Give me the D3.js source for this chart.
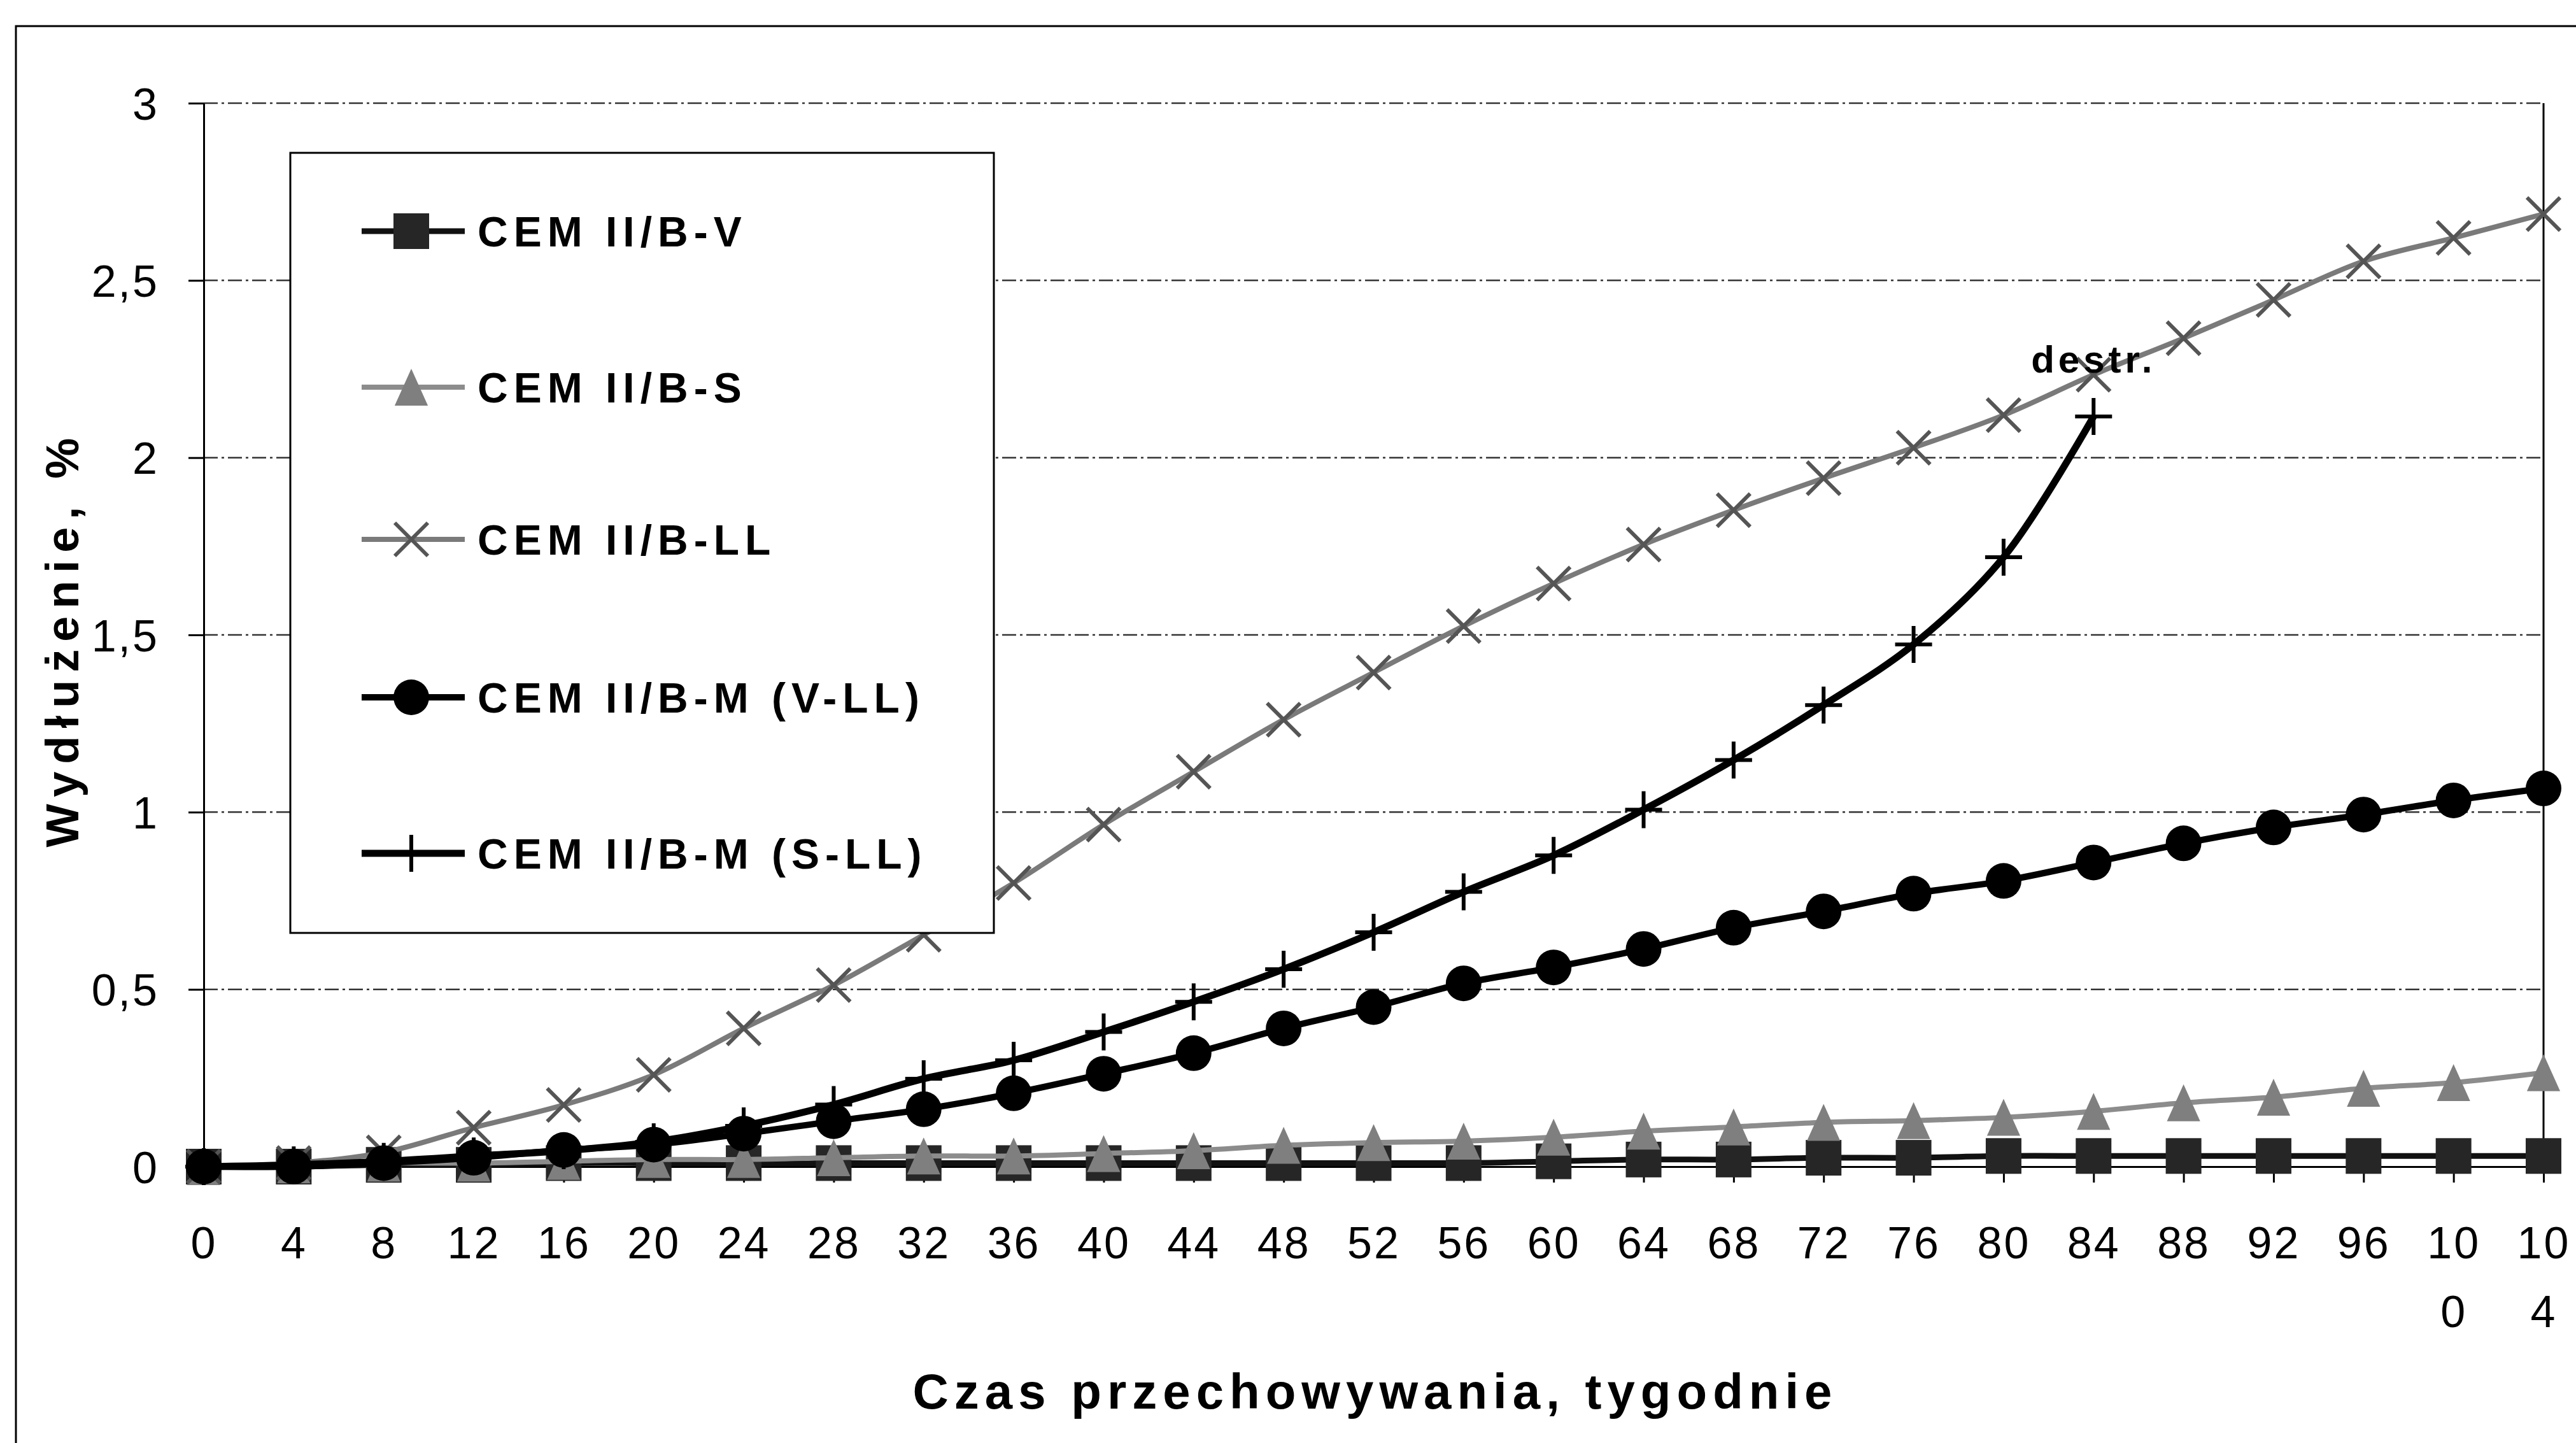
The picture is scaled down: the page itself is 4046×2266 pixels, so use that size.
<!DOCTYPE html>
<html>
<head>
<meta charset="utf-8">
<script src="https://cdn.jsdelivr.net/npm/d3@7"></script>
<style>
    body { margin: 0; background: #fff; }
    svg { display: block; }
    text { font-family: "Liberation Sans", Arial, sans-serif; fill: #000; }
</style>
</head>
<body>
<div id="chart"></div>
<script>
// storage time in weeks (x categories)
const weeks = [0, 4, 8, 12, 16, 20, 24, 28, 32, 36, 40, 44, 48, 52,
    56, 60, 64, 68, 72, 76, 80, 84, 88, 92, 96, 100, 104]
const xTickLabels = ["0", "4", "8", "12", "16", "20", "24", "28", "32", "36", "40", "44", "48", "52",
    "56", "60", "64", "68", "72", "76", "80", "84", "88", "92", "96", "100", "104"]

const yTicks = [0, 0.5, 1, 1.5, 2, 2.5, 3]
const yTickLabels = ["0", "0,5", "1", "1,5", "2", "2,5", "3"]

const seriesNames = ["CEM II/B-V", "CEM II/B-S", "CEM II/B-LL", "CEM II/B-M (V-LL)", "CEM II/B-M (S-LL)"]

// elongation, %
const cemV = [0, 0, 0.005, 0.005, 0.01, 0.01, 0.01, 0.01, 0.01, 0.01, 0.01, 0.01, 0.01, 0.01,
    0.01, 0.015, 0.02, 0.02, 0.025, 0.025, 0.03, 0.03, 0.03, 0.03, 0.03, 0.03, 0.03]
const cemS = [0, 0.005, 0.01, 0.01, 0.015, 0.02, 0.02, 0.025, 0.03, 0.03, 0.037, 0.045, 0.06, 0.068,
    0.072, 0.083, 0.1, 0.112, 0.125, 0.13, 0.139, 0.156, 0.18, 0.196, 0.221, 0.237, 0.265]
const cemLL = [0, 0.01, 0.04, 0.11, 0.174, 0.259, 0.39, 0.512, 0.654, 0.8, 0.965, 1.114, 1.261, 1.394,
    1.525, 1.645, 1.755, 1.852, 1.942, 2.028, 2.12, 2.234, 2.337, 2.445, 2.554, 2.62, 2.687]
const cemMVLL = [0, 0, 0.01, 0.025, 0.047, 0.062, 0.093, 0.128, 0.162, 0.207, 0.262, 0.32, 0.39, 0.45,
    0.517, 0.562, 0.614, 0.674, 0.72, 0.77, 0.806, 0.858, 0.912, 0.957, 0.993, 1.033, 1.067]
// specimens destroyed after week 84
const cemMSLL = [0, 0.005, 0.015, 0.03, 0.045, 0.07, 0.115, 0.175, 0.248, 0.3, 0.38, 0.465, 0.557, 0.661,
    0.775, 0.878, 1.007, 1.147, 1.302, 1.473, 1.719, 2.116]

const destrLabel = "destr."
const xTitle = "Czas przechowywania, tygodnie"
const yTitle = "Wydłużenie, %"

const width = 4046,
    height = 2266

const plot = {
    left: 320,
    right: 3995,
    top: 162,
    bottom: 1832
}

const svg = d3.select("#chart").append("svg")
    .attr("width", width)
    .attr("height", height)

svg.append("rect")
    .attr("width", width)
    .attr("height", height)
    .attr("fill", "#fff")

// outer chart frame (runs off the right and bottom of the picture)
svg.append("rect")
    .attr("x", 25)
    .attr("y", 41)
    .attr("width", width + 100)
    .attr("height", height + 100)
    .attr("fill", "none")
    .attr("stroke", "#000")
    .attr("stroke-width", 3)

const x = d3.scalePoint().domain(weeks).range([plot.left, plot.right])
const y = d3.scaleLinear().domain([0, 3]).range([plot.bottom, plot.top])

// gridlines
svg.append("g").selectAll("line")
    .data(yTicks.filter(d => d > 0))
    .enter()
    .append("line")
    .attr("x1", plot.left)
    .attr("x2", plot.right)
    .attr("y1", d => y(d))
    .attr("y2", d => y(d))
    .attr("stroke", "#333")
    .attr("stroke-width", 2.5)
    .attr("stroke-dasharray", "22,6,4,6")

// right border of the plot area
svg.append("line")
    .attr("x1", plot.right)
    .attr("x2", plot.right)
    .attr("y1", plot.top)
    .attr("y2", plot.bottom)
    .attr("stroke", "#000")
    .attr("stroke-width", 3)

// y axis
const yAxis = svg.append("g")
    .attr("transform", "translate(" + plot.left + ",0)")
    .call(d3.axisLeft(y)
        .tickValues(yTicks)
        .tickFormat((d, i) => yTickLabels[i])
        .tickSize(24)
        .tickSizeOuter(0)
        .tickPadding(46))
yAxis.selectAll("path, line").attr("stroke", "#000").attr("stroke-width", 3)
yAxis.selectAll("text")
    .attr("font-size", 70)
    .attr("font-family", "Liberation Sans, Arial, sans-serif")
    .attr("letter-spacing", 3)
    .attr("dy", "0.36em")

// x axis
const xAxis = svg.append("g")
    .attr("transform", "translate(0," + plot.bottom + ")")
    .call(d3.axisBottom(x)
        .tickSize(25)
        .tickSizeOuter(0)
        .tickPadding(69)
        .tickFormat((d, i) => xTickLabels[i]))
xAxis.selectAll("path, line").attr("stroke", "#000").attr("stroke-width", 3)
xAxis.selectAll("text")
    .attr("font-size", 70)
    .attr("font-family", "Liberation Sans, Arial, sans-serif")
    .attr("letter-spacing", 3)
    .each(function (d, i) {
        // Excel wraps the three-digit labels onto two lines
        const label = xTickLabels[i]
        const t = d3.select(this)
        if (label.length > 2) {
            t.text(null).attr("dy", null)
            t.append("tspan").attr("x", 0).attr("dy", "0.71em").text(label.slice(0, 2))
            t.append("tspan").attr("x", 0).attr("dy", "1.54em").text(label.slice(2))
        }
    })

// marker shapes
const markers = {
    square: (g, s) => g.append("rect")
        .attr("x", -s / 2).attr("y", -s / 2)
        .attr("width", s).attr("height", s)
        .attr("fill", "#262626"),
    triangle: (g, s) => g.append("path")
        .attr("d", `M0,${-s / 2}L${s * 0.45},${s / 2}L${-s * 0.45},${s / 2}Z`)
        .attr("fill", "#7f7f7f"),
    cross: (g, s) => g.append("path")
        .attr("d", `M${-s / 2},${-s / 2}L${s / 2},${s / 2}M${-s / 2},${s / 2}L${s / 2},${-s / 2}`)
        .attr("stroke", "#555")
        .attr("stroke-width", 6)
        .attr("fill", "none"),
    circle: (g, s) => g.append("circle")
        .attr("r", s / 2)
        .attr("fill", "#000"),
    plus: (g, s) => g.append("path")
        .attr("d", `M${-s / 2},0L${s / 2},0M0,${-s / 2}L0,${s / 2}`)
        .attr("stroke", "#000")
        .attr("stroke-width", 6)
        .attr("fill", "none")
}

const series = [
    { name: seriesNames[0], values: cemV, color: "#111", lineWidth: 9, marker: "square", size: 56 },
    { name: seriesNames[1], values: cemS, color: "#8c8c8c", lineWidth: 8, marker: "triangle", size: 58 },
    { name: seriesNames[2], values: cemLL, color: "#7a7a7a", lineWidth: 8, marker: "cross", size: 52 },
    { name: seriesNames[3], values: cemMVLL, color: "#000", lineWidth: 10, marker: "circle", size: 56 },
    { name: seriesNames[4], values: cemMSLL, color: "#000", lineWidth: 11, marker: "plus", size: 58 }
]

const line = d3.line()
    .x(d => x(d.week))
    .y(d => y(d.value))
    .curve(d3.curveCatmullRom.alpha(0.5))

series.forEach((s) => {
    const points = s.values.map((v, i) => ({ week: weeks[i], value: v }))
    const g = svg.append("g")
    g.append("path")
        .datum(points)
        .attr("d", line)
        .attr("fill", "none")
        .attr("stroke", s.color)
        .attr("stroke-width", s.lineWidth)
        .attr("stroke-linejoin", "round")
    g.selectAll("g.pt")
        .data(points)
        .enter()
        .append("g")
        .attr("class", "pt")
        .attr("transform", d => "translate(" + x(d.week) + "," + y(d.value) + ")")
        .each(function () { markers[s.marker](d3.select(this), s.size) })
})

// label over the last S-LL point
svg.append("text")
    .attr("x", x(weeks[cemMSLL.length - 1]))
    .attr("y", y(cemMSLL[cemMSLL.length - 1]) - 69)
    .attr("text-anchor", "middle")
    .attr("font-size", 60)
    .attr("font-weight", "bold")
    .attr("letter-spacing", 6)
    .text(destrLabel)

// legend
const legend = svg.append("g")
legend.append("rect")
    .attr("x", 456)
    .attr("y", 240)
    .attr("width", 1105)
    .attr("height", 1225)
    .attr("fill", "#fff")
    .attr("stroke", "#000")
    .attr("stroke-width", 3)

const legendY = [363, 608, 847, 1095, 1340]
series.forEach((s, i) => {
    const item = legend.append("g").attr("transform", "translate(0," + legendY[i] + ")")
    item.append("line")
        .attr("x1", 568)
        .attr("x2", 730)
        .attr("stroke", s.color)
        .attr("stroke-width", s.lineWidth)
    const m = item.append("g").attr("transform", "translate(646,0)")
    markers[s.marker](m, s.size)
    item.append("text")
        .attr("x", 750)
        .attr("y", 24)
        .attr("font-size", 66)
        .attr("font-weight", "bold")
        .attr("letter-spacing", 9)
        .text(s.name)
})

// axis titles
svg.append("text")
    .attr("x", 2160)
    .attr("y", 2212)
    .attr("text-anchor", "middle")
    .attr("font-size", 78)
    .attr("font-weight", "bold")
    .attr("letter-spacing", 9)
    .text(xTitle)

svg.append("text")
    .attr("transform", "translate(123,1003) rotate(-90)")
    .attr("text-anchor", "middle")
    .attr("font-size", 72)
    .attr("font-weight", "bold")
    .attr("letter-spacing", 12)
    .text(yTitle)
</script>
</body>
</html>
